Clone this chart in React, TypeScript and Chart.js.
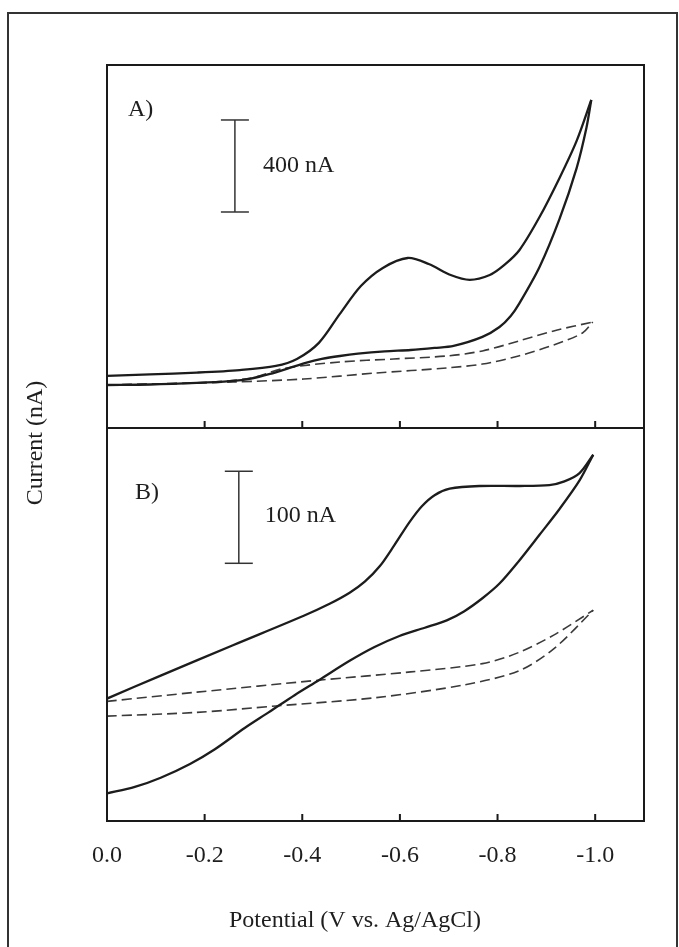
import React, { useEffect, useRef } from "react";
import { Chart, registerables } from "chart.js";

Chart.register(...registerables);

const FONT = "'Liberation Serif', 'Times New Roman', serif";

// x ticks (potential, V)
const xTicks = [0, -0.2, -0.4, -0.6, -0.8, -1.0];

// Panel A (current in nA, arbitrary zero)
const aFwdV = [0, -0.088, -0.184, -0.272, -0.346, -0.389, -0.434, -0.477, -0.52, -0.565, -0.616, -0.659, -0.704, -0.743, -0.784, -0.814, -0.845, -0.886, -0.927, -0.962, -0.992];
const aFwdI = [227, 233, 241, 252, 270, 300, 370, 496, 617, 696, 739, 713, 665, 644, 665, 709, 774, 917, 1087, 1248, 1426];
const aRevV = [0, -0.088, -0.184, -0.252, -0.295, -0.334, -0.374, -0.407, -0.44, -0.477, -0.514, -0.569, -0.622, -0.671, -0.71, -0.769, -0.804, -0.827, -0.845, -0.886, -0.927, -0.962, -0.982, -0.992];
const aRevI = [187, 189, 196, 204, 215, 235, 261, 283, 300, 313, 323, 333, 339, 348, 357, 396, 439, 487, 543, 700, 909, 1130, 1304, 1426];
const aBlankUpV = [0, -0.184, -0.295, -0.36, -0.477, -0.587, -0.696, -0.769, -0.843, -0.915, -0.995];
const aBlankUpI = [187, 196, 217, 258, 287, 300, 313, 335, 378, 422, 461];
const aBlankLoV = [0, -0.258, -0.403, -0.55, -0.696, -0.769, -0.843, -0.915, -0.974, -0.995];
const aBlankLoI = [187, 200, 213, 239, 261, 278, 313, 361, 413, 461];
const aBarV = [-0.262, -0.262];
const aBarI = [939, 1339];

// Panel B (current in nA, arbitrary zero)
const bFwdV = [0, -0.11, -0.258, -0.403, -0.456, -0.497, -0.528, -0.559, -0.589, -0.62, -0.645, -0.671, -0.702, -0.763, -0.845, -0.906, -0.937, -0.968, -0.996];
const bFwdI = [133, 158, 191, 223, 236, 248, 260, 277, 300, 325, 342, 354, 361, 364, 364, 365, 369, 378, 398];
const bRevV = [0, -0.057, -0.11, -0.17, -0.221, -0.282, -0.331, -0.385, -0.434, -0.497, -0.548, -0.599, -0.651, -0.696, -0.732, -0.769, -0.804, -0.843, -0.886, -0.927, -0.968, -0.996];
const bRevI = [30, 37, 47, 62, 78, 101, 118, 137, 153, 174, 189, 201, 210, 218, 228, 242, 258, 282, 311, 339, 370, 398];
const bBlankUpV = [0, -0.184, -0.434, -0.622, -0.769, -0.843, -0.915, -0.996];
const bBlankUpI = [130, 140, 153, 162, 171, 183, 202, 229];
const bBlankLoV = [0, -0.184, -0.346, -0.55, -0.733, -0.843, -0.915, -0.996];
const bBlankLoI = [114, 118, 125, 134, 148, 163, 187, 229];
const bBarV = [-0.27, -0.27];
const bBarI = [280, 380];

const panelLabels = ["A)", "B)"];
const barLabels = ["400 nA", "100 nA"];
const xTitle = "Potential (V vs. Ag/AgCl)";
const yTitle = "Current (nA)";

const pts = (v: number[], i: number[]) => v.map((x, k) => ({ x, y: i[k] }));

const SOLID = "#1c1c1c";
const DASH = "#3a3a3a";

function solid(v: number[], i: number[], axis: string) {
  return {
    data: pts(v, i),
    yAxisID: axis,
    borderColor: SOLID,
    borderWidth: 2.3,
    pointRadius: 0,
    tension: 0.3,
    fill: false,
  };
}
function dashed(v: number[], i: number[], axis: string) {
  return {
    data: pts(v, i),
    yAxisID: axis,
    borderColor: DASH,
    borderWidth: 1.6,
    borderDash: [10, 5],
    pointRadius: 0,
    tension: 0.3,
    fill: false,
  };
}
function bar(v: number[], i: number[], axis: string) {
  return {
    data: pts(v, i),
    yAxisID: axis,
    borderColor: "#333",
    borderWidth: 1.5,
    pointStyle: "line" as const,
    pointRadius: 14,
    pointBorderWidth: 1.5,
    pointBorderColor: "#333",
    fill: false,
  };
}

const decorPlugin = {
  id: "decor",
  beforeDraw(chart: any) {
    const ctx = chart.ctx;
    ctx.save();
    ctx.fillStyle = "#fff";
    ctx.fillRect(0, 0, chart.width, chart.height);
    ctx.strokeStyle = "#333";
    ctx.lineWidth = 2;
    ctx.strokeRect(8, 13, 669, 980);
    ctx.restore();
  },
  afterDraw(chart: any) {
    const { ctx, chartArea, scales } = chart;
    const x = scales.x;
    const yA = scales.yA;
    const yB = scales.yB;
    ctx.save();
    ctx.strokeStyle = "#1a1a1a";
    ctx.lineWidth = 2;
    ctx.strokeRect(chartArea.left, chartArea.top, chartArea.right - chartArea.left, chartArea.bottom - chartArea.top);
    const div = yA.bottom;
    ctx.beginPath();
    ctx.moveTo(chartArea.left, div);
    ctx.lineTo(chartArea.right, div);
    for (const v of xTicks) {
      if (v === 0) continue;
      const px = x.getPixelForValue(v);
      ctx.moveTo(px, div);
      ctx.lineTo(px, div - 7);
      ctx.moveTo(px, chartArea.bottom);
      ctx.lineTo(px, chartArea.bottom - 7);
    }
    ctx.stroke();

    ctx.fillStyle = "#1e1e1e";
    ctx.font = `24px ${FONT}`;
    ctx.textBaseline = "middle";
    ctx.textAlign = "left";
    ctx.fillText(panelLabels[0], chartArea.left + 21, yA.top + 45);
    ctx.fillText(panelLabels[1], chartArea.left + 28, yB.top + 65);
    const ax = x.getPixelForValue(aBarV[0]);
    ctx.fillText(barLabels[0], ax + 28, yA.getPixelForValue((aBarI[0] + aBarI[1]) / 2));
    const bx = x.getPixelForValue(bBarV[0]);
    ctx.fillText(barLabels[1], bx + 26, yB.getPixelForValue((bBarI[0] + bBarI[1]) / 2) - 2);

    ctx.textAlign = "center";
    ctx.fillText(xTitle, 355, 921);
    ctx.translate(36, (chartArea.top + chartArea.bottom) / 2);
    ctx.rotate(-Math.PI / 2);
    ctx.fillText(yTitle, 0, 0);
    ctx.restore();
  },
};

export default function App() {
  const ref = useRef<HTMLCanvasElement>(null);
  useEffect(() => {
    document.body.style.margin = "0";
    const canvas = ref.current!;
    const chart = new Chart(canvas, {
      type: "line",
      data: {
        datasets: [
          solid(aFwdV, aFwdI, "yA"),
          solid(aRevV, aRevI, "yA"),
          dashed(aBlankUpV, aBlankUpI, "yA"),
          dashed(aBlankLoV, aBlankLoI, "yA"),
          bar(aBarV, aBarI, "yA"),
          solid(bFwdV, bFwdI, "yB"),
          solid(bRevV, bRevI, "yB"),
          dashed(bBlankUpV, bBlankUpI, "yB"),
          dashed(bBlankLoV, bBlankLoI, "yB"),
          bar(bBarV, bBarI, "yB"),
        ] as any,
      },
      options: {
        animation: false,
        responsive: false,
        devicePixelRatio: 1,
        layout: { padding: { left: 107, right: 35, top: 65, bottom: 0 } },
        plugins: { legend: { display: false }, tooltip: { enabled: false } },
        events: [],
        scales: {
          x: {
            type: "linear",
            min: -1.1,
            max: 0,
            reverse: true,
            position: "bottom",
            afterBuildTicks: (s: any) => {
              s.ticks = xTicks.map((v) => ({ value: v }));
            },
            afterFit: (s: any) => {
              s.height = 126;
            },
            grid: { display: false, drawTicks: false },
            border: { display: false },
            ticks: {
              padding: 20,
              color: "#1e1e1e",
              font: { family: FONT, size: 24 },
              maxRotation: 0,
              autoSkip: false,
              callback: (v: any) => Number(v).toFixed(1),
            },
          },
          yB: {
            type: "linear",
            position: "left",
            stack: "panels",
            stackWeight: 393,
            min: 0,
            max: 427,
            afterFit: (s: any) => {
              s.width = 0;
            },
            grid: { display: false, drawTicks: false },
            border: { display: false },
            ticks: { display: false },
          },
          yA: {
            type: "linear",
            position: "left",
            stack: "panels",
            stackWeight: 363,
            min: 0,
            max: 1578,
            afterFit: (s: any) => {
              s.width = 0;
            },
            grid: { display: false, drawTicks: false },
            border: { display: false },
            ticks: { display: false },
          },
        } as any,
      },
      plugins: [decorPlugin],
    });
    return () => chart.destroy();
  }, []);
  return (
    <div style={{ position: "fixed", left: 0, top: 0, width: 679, height: 947, background: "#fff" }}>
      <canvas ref={ref} width={679} height={947} style={{ width: 679, height: 947 }} />
    </div>
  );
}
